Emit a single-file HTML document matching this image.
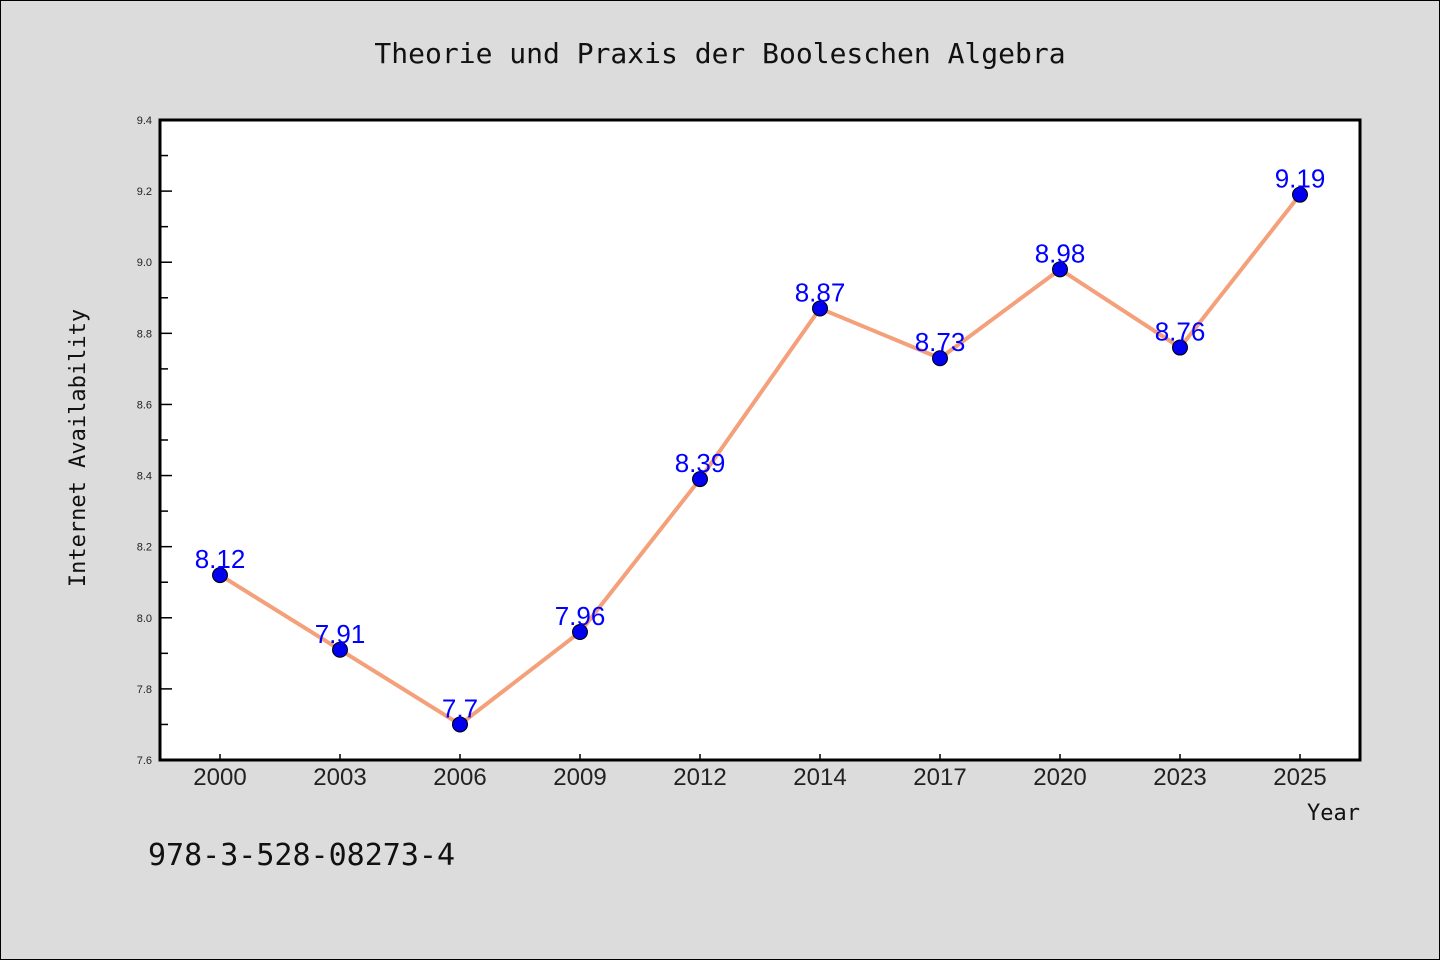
<!DOCTYPE html>
<html><head><meta charset="utf-8"><style>
html,body{margin:0;padding:0;background:#dcdcdc;}
svg{display:block;font-family:"Liberation Sans","DejaVu Sans",sans-serif;}
</style></head><body>
<svg id="chart" width="1440" height="960">
<rect x="0.5" y="0.5" width="1439" height="959" fill="#dcdcdc" stroke="#000"/>
<text x="720" y="63" text-anchor="middle" font-size="28" font-family="'DejaVu Sans Mono','Liberation Mono',monospace" fill="#111">Theorie und Praxis der Booleschen Algebra</text>
<rect x="160" y="120" width="1200" height="640" fill="#fff" stroke="#000" stroke-width="3"/>
<text transform="translate(85,448) rotate(-90)" text-anchor="middle" font-size="22" font-family="'DejaVu Sans Mono','Liberation Mono',monospace" fill="#111">Internet Availability</text>
<text x="1360" y="820" text-anchor="end" font-size="22" font-family="'DejaVu Sans Mono','Liberation Mono',monospace" fill="#111">Year</text>
<text x="148" y="865" font-size="30" font-family="'DejaVu Sans Mono','Liberation Mono',monospace" fill="#111">978-3-528-08273-4</text>
<g id="axes"></g><g id="series"></g>
</svg>
<script>
const categories=["2000","2003","2006","2009","2012","2014","2017","2020","2023","2025"];
const values=[8.12,7.91,7.7,7.96,8.39,8.87,8.73,8.98,8.76,9.19];
const yTicks=[7.6,7.8,8.0,8.2,8.4,8.6,8.8,9.0,9.2,9.4];
const yTickLabels=["7.6","7.8","8.0","8.2","8.4","8.6","8.8","9.0","9.2","9.4"];
const NS="http://www.w3.org/2000/svg";
const X0=160,X1=1360,Y0=760,Y1=120,YMIN=7.6,YMAX=9.4;
const step=(X1-X0)/categories.length;
function xs(i){return X0+step*(i+0.5);}
function ys(v){return Y0-(v-YMIN)/(YMAX-YMIN)*(Y0-Y1);}
function mk(tag,attrs,parent){const e=document.createElementNS(NS,tag);for(const k in attrs)e.setAttribute(k,attrs[k]);parent.appendChild(e);return e;}
const axes=document.getElementById('axes'),ser=document.getElementById('series');
yTicks.forEach((t,i)=>{
  const y=ys(t);
  const l=mk('line',{x1:X0,x2:X0+12,y1:y,y2:y,stroke:'#000','stroke-width':1.5},axes);
  
  
  const tx=mk('text',{x:152,y:y+4,'text-anchor':'end','font-size':11,fill:'#222'},axes);
  tx.textContent=yTickLabels[i];
  
  
  if(i<yTicks.length-1){
    const ym=ys((t+yTicks[i+1])/2);
    const m=mk('line',{x1:X0,x2:X0+8,y1:ym,y2:ym,stroke:'#000','stroke-width':1.5},axes);
    
    
  }
});
categories.forEach((c,i)=>{
  const x=xs(i);
  const l=mk('line',{x1:x,x2:x,y1:Y0,y2:Y0-6,stroke:'#000','stroke-width':1.5},axes);
  
  
  const tx=mk('text',{x:x,y:785,'text-anchor':'middle','font-size':24,fill:'#222'},axes);
  tx.textContent=c;
  
  
});
const pl=mk('polyline',{points:values.map((v,i)=>xs(i)+','+ys(v)).join(' '),fill:'none',stroke:'#f4a07a','stroke-width':4,'stroke-linejoin':'round'},ser);


values.forEach((v,i)=>{
  const c=mk('circle',{cx:xs(i),cy:ys(v),r:7.5,fill:'#0000ee',stroke:'#000','stroke-width':1},ser);
  
  
});
values.forEach((v,i)=>{
  const t=mk('text',{x:xs(i),y:ys(v)-7,'text-anchor':'middle','font-size':26,fill:'#0000ff'},ser);
  t.textContent=String(v);
  
  
});
</script>
</body></html>
